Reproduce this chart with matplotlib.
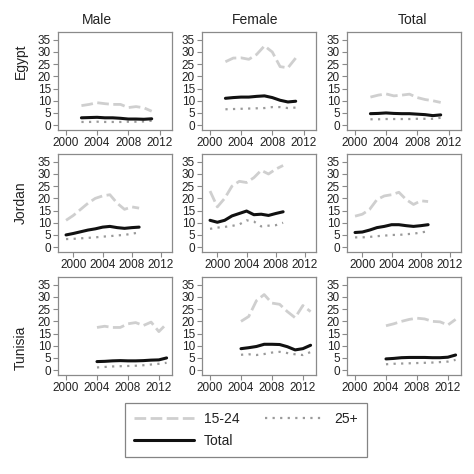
import matplotlib
matplotlib.use("Agg")
import matplotlib.pyplot as plt

plt.rcParams['font.family'] = ['Liberation Sans', 'DejaVu Sans']

countries = ["Egypt", "Jordan", "Tunisia"]
groups = ["Male", "Female", "Total"]

years_egypt = [2002, 2003, 2004, 2005, 2006, 2007, 2008, 2009, 2010, 2011]
years_jordan = [1999, 2000, 2001, 2002, 2003, 2004, 2005, 2006, 2007, 2008, 2009]
years_tunisia = [2004, 2005, 2006, 2007, 2008, 2009, 2010, 2011, 2012, 2013]

# Egypt
egypt_male_young = [8.0, 8.5, 9.2, 8.8, 8.5, 8.5, 7.2, 7.6, 7.1, 5.7]
egypt_male_total = [3.0, 3.1, 3.2, 3.0, 3.0, 2.8, 2.5, 2.5, 2.4, 2.6]
egypt_male_old = [1.3, 1.3, 1.4, 1.3, 1.3, 1.3, 1.4, 1.4, 1.5, 1.8]
egypt_female_young = [26.0, 27.5, 27.6, 27.0, 29.0, 32.5, 30.0, 24.0, 23.5, 27.5]
egypt_female_total = [11.0, 11.3, 11.5, 11.5, 11.8, 12.0, 11.3, 10.2, 9.5, 9.8]
egypt_female_old = [6.5, 6.6, 6.7, 6.8, 6.9, 7.0, 7.4, 7.4, 7.0, 7.2]
egypt_total_young = [11.5, 12.3, 12.8, 12.0, 12.3, 12.7, 11.3, 10.5, 10.0, 9.3]
egypt_total_total = [4.7, 4.8, 5.0, 4.8, 4.7, 4.7, 4.5, 4.3, 3.9, 4.2]
egypt_total_old = [2.4, 2.4, 2.5, 2.5, 2.5, 2.5, 2.6, 2.6, 2.6, 3.0]

# Jordan
jordan_male_young = [11.0, 13.0, 15.5, 18.0, 20.0, 21.0, 21.5, 18.0, 15.5, 16.5, 16.0]
jordan_male_total = [5.0, 5.6, 6.3, 7.0, 7.5, 8.2, 8.5, 8.0, 7.7, 8.0, 8.2]
jordan_male_old = [3.3, 3.4, 3.6, 3.8, 4.0, 4.3, 4.5, 4.8, 5.0, 5.5, 6.0]
jordan_female_young = [23.0, 16.5, 20.0, 25.0, 27.0, 26.5, 28.5, 31.5, 30.0, 32.0, 33.5]
jordan_female_total = [11.0, 10.2, 11.0, 12.8, 13.8, 14.8, 13.3, 13.5, 13.0, 13.8, 14.5]
jordan_female_old = [7.5, 8.0, 8.3, 8.7, 9.3, 11.0, 10.5, 8.5, 8.8, 9.0, 10.0]
jordan_total_young = [12.7, 13.5, 15.5, 19.5, 21.0, 21.5, 22.5, 19.5, 17.5, 19.0, 18.7]
jordan_total_total = [6.0, 6.2, 7.0, 8.0, 8.5, 9.2, 9.2, 8.8, 8.5, 8.8, 9.2]
jordan_total_old = [4.0, 4.0, 4.2, 4.5, 4.7, 5.0, 5.0, 5.3, 5.5, 6.0, 6.5]

# Tunisia
tunisia_male_young = [17.5, 18.0, 17.5, 17.5, 19.0, 19.5, 18.3, 19.7, 15.8, 19.0]
tunisia_male_total = [3.5, 3.6, 3.8, 3.9, 3.8, 3.8, 3.9, 4.1, 4.2, 5.0]
tunisia_male_old = [1.1, 1.3, 1.5, 1.6, 1.7, 1.8, 2.0, 2.3, 2.6, 3.0]
tunisia_female_young = [20.0, 22.0, 28.5, 31.0, 27.5, 27.0, 24.0, 21.5, 26.5, 24.0]
tunisia_female_total = [8.8, 9.2, 9.7, 10.6, 10.6, 10.5, 9.6, 8.3, 8.8, 10.2]
tunisia_female_old = [6.3, 6.5, 6.2, 6.6, 7.2, 7.5, 7.0, 6.5, 6.2, 7.4]
tunisia_total_young = [18.2, 19.0, 20.0, 20.8, 21.3, 21.0, 20.0, 19.8, 18.5, 20.8]
tunisia_total_total = [4.6, 4.8, 5.1, 5.2, 5.2, 5.2, 5.1, 5.1, 5.3, 6.2]
tunisia_total_old = [2.4, 2.6, 2.7, 2.8, 2.9, 3.0, 3.1, 3.3, 3.5, 4.2]

series_labels = ["15-24", "25+", "Total"]
x_ticks = [2000, 2004, 2008, 2012]
y_ticks = [0, 5, 10, 15, 20, 25, 30, 35]

data = {
    "Egypt": (years_egypt, [
        (egypt_male_young, egypt_male_old, egypt_male_total),
        (egypt_female_young, egypt_female_old, egypt_female_total),
        (egypt_total_young, egypt_total_old, egypt_total_total)]),
    "Jordan": (years_jordan, [
        (jordan_male_young, jordan_male_old, jordan_male_total),
        (jordan_female_young, jordan_female_old, jordan_female_total),
        (jordan_total_young, jordan_total_old, jordan_total_total)]),
    "Tunisia": (years_tunisia, [
        (tunisia_male_young, tunisia_male_old, tunisia_male_total),
        (tunisia_female_young, tunisia_female_old, tunisia_female_total),
        (tunisia_total_young, tunisia_total_old, tunisia_total_total)]),
}

W = 474.0
fig = plt.figure(figsize=(4.74, 4.74), dpi=100)
fig.patch.set_facecolor("white")

col_left = [58, 202, 347]
row_top = [32, 154, 277]
aw, ah = 114, 98
xlims = [(1999.0, 2013.6), (1997.9, 2013.5), (1998.96, 2013.7)]
row_label_y = [61, 203, 348]
title_x = [97, 255, 412]

frame_col = "#8a8a8a"
handles = None
for r, c_name in enumerate(countries):
    yrs, panels = data[c_name]
    for c in range(3):
        ax = fig.add_axes([col_left[c] / W, 1 - (row_top[r] + ah) / W, aw / W, ah / W])
        young, old, tot = panels[c]
        h1, = ax.plot(yrs, young, color="#cfcfcf", lw=2.0, linestyle=(0, (4.2, 1.6)),
                      solid_capstyle="butt", dash_capstyle="butt")
        h2, = ax.plot(yrs, old, color="#9a9a9a", lw=1.6, linestyle=(0, (1, 2.4)))
        h3, = ax.plot(yrs, tot, color="#111111", lw=2.2, solid_capstyle="round")
        if handles is None:
            handles = [h1, h3, h2]
        ax.set_xlim(*xlims[r])
        ax.set_ylim(-2.0, 38.2)
        ax.set_xticks(x_ticks)
        ax.set_yticks(y_ticks)
        ax.tick_params(direction="out", length=3.5, width=0.8, color=frame_col,
                       labelsize=8.5, labelcolor="#222222", pad=1.5)
        for s in ax.spines.values():
            s.set_color(frame_col)
            s.set_linewidth(0.9)
        if r == 0:
            fig.text(title_x[c] / W, 1 - 20 / W, groups[c], ha="center", va="center",
                     fontsize=10, color="#222222")
    fig.text(21 / W, 1 - row_label_y[r] / W, c_name, rotation=90, ha="center",
             va="center", fontsize=10, color="#222222")

leg = fig.legend(handles, [series_labels[0], series_labels[2], series_labels[1]],
                 ncol=2, loc="center", bbox_to_anchor=(246 / W, 1 - 430 / W),
                 fontsize=10, frameon=True, fancybox=False, handlelength=4.3,
                 columnspacing=1.8, handletextpad=0.7, borderpad=0.65, labelspacing=0.6,
                 borderaxespad=0)
leg.get_frame().set_edgecolor("#666666")
leg.get_frame().set_linewidth(0.9)
for t in leg.get_texts():
    t.set_color("#222222")

fig.savefig("out.png", dpi=100, facecolor="white")
